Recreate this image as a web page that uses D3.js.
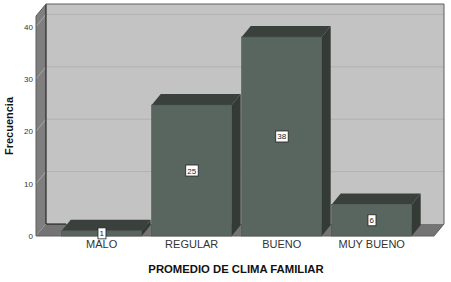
<!DOCTYPE html>
<html><head><meta charset="utf-8">
<script src="https://cdn.jsdelivr.net/npm/d3@7/dist/d3.min.js"></script>
<style>body{margin:0;background:#fff}svg{display:block}</style>
</head><body>
<script>
const categories = ["MALO", "REGULAR", "BUENO", "MUY BUENO"];
const values = [1, 25, 38, 6];
const yTicks = [0, 10, 20, 30, 40];
const xTitle = "PROMEDIO DE CLIMA FAMILIAR";
const yTitle = "Frecuencia";

const W = 451, H = 282;
const svg = d3.select("body").append("svg").attr("width", W).attr("height", H);
const font = "Liberation Sans, Arial, sans-serif";

const y = d3.scaleLinear().domain([0, 42]).range([236, 16]);
const x = d3.scaleBand().domain(categories).range([56.7, 416.7]).paddingInner(0.111).paddingOuter(0.0555);

const fx0 = 36, fx1 = 434, dX = 10, dY = 12;   // frame
const bdx = 9, bdy = 11;                        // bar depth
const y0 = y(0), yTop = y(42);

// back wall
svg.append("rect").attr("x", fx0 + dX).attr("y", yTop - dY).attr("width", fx1 - fx0).attr("height", y0 - yTop)
  .attr("fill", "#c3c3c3");
// left wall
svg.append("path").attr("d", `M${fx0},${yTop} L${fx0+dX},${yTop-dY} L${fx0+dX},${y0-dY} L${fx0},${y0} Z`).attr("fill", "#7f7f7f");
// floor
svg.append("path").attr("d", `M${fx0},${y0} L${fx0+dX},${y0-dY} L${fx1+dX},${y0-dY} L${fx1},${y0} Z`).attr("fill", "#747474");

// gridlines
yTicks.filter(t => t > 0).forEach(t => {
  svg.append("line").attr("x1", fx0 + dX).attr("x2", fx1 + dX).attr("y1", y(t) - dY).attr("y2", y(t) - dY)
    .attr("stroke", "#b2b2b2").attr("stroke-width", 1);
  svg.append("line").attr("x1", fx0).attr("x2", fx0 + dX).attr("y1", y(t)).attr("y2", y(t) - dY)
    .attr("stroke", "#a8a8a8").attr("stroke-width", 1);
});
// back wall edges
svg.append("path").attr("d", `M${fx0+dX},${yTop-dY} L${fx0+dX},${y0-dY} L${fx0+dX+20},${y0-dY}`)
  .attr("fill", "none").attr("stroke", "#111").attr("stroke-width", 1);
svg.append("path").attr("d", `M${fx0},${yTop} L${fx0+dX},${yTop-dY} L${fx1+dX},${yTop-dY} L${fx1+dX},${y0-dY} L${fx1},${y0} L${fx0},${y0} Z`)
  .attr("fill", "none").attr("stroke", "#5e5e5e").attr("stroke-width", 1);

// bars
const g = svg.append("g");
categories.forEach((c, i) => {
  const bx = x(c), bw = x.bandwidth(), by = y(values[i]);
  g.append("path").attr("d", `M${bx},${by} L${bx+bdx},${by-bdy} L${bx+bw+bdx},${by-bdy} L${bx+bw},${by} Z`).attr("fill", "#3a413d");
  g.append("path").attr("d", `M${bx+bw},${by} L${bx+bw+bdx},${by-bdy} L${bx+bw+bdx},${y0-bdy} L${bx+bw},${y0} Z`).attr("fill", "#343b37");
  g.append("rect").attr("x", bx).attr("y", by).attr("width", bw).attr("height", y0 - by)
    .attr("fill", "#59655f").attr("stroke", "#4a544f").attr("stroke-width", 0.6);
  // value label
  const cy = (by + y0) / 2, cx = bx + bw / 2;
  const t = g.append("text").attr("x", cx).attr("y", cy + 3).attr("text-anchor", "middle")
    .attr("font-family", font).attr("font-size", 8).attr("fill", "#222").text(values[i]);
  const bb = t.node().getBBox();
  g.insert("rect", () => t.node()).attr("x", bb.x - 1.5).attr("y", cy - 5.5).attr("width", bb.width + 3).attr("height", 11)
    .attr("fill", "#fff").attr("stroke", "#222").attr("stroke-width", 0.8);
});

// y axis
const ya = svg.append("g").attr("transform", `translate(${fx0 - 2},0)`)
  .call(d3.axisLeft(y).tickValues(yTicks).tickSize(0).tickPadding(1));
ya.select(".domain").remove();
ya.selectAll("text").attr("font-family", font).attr("font-size", 8).attr("fill", "#333");

// x axis labels
const xa = svg.append("g").attr("transform", `translate(0,${y0})`)
  .call(d3.axisBottom(x).tickSize(0).tickPadding(4));
xa.select(".domain").remove();
xa.selectAll("text").attr("font-family", font).attr("font-size", 11).attr("fill", "#333");

// titles
svg.append("text").attr("x", 236).attr("y", 273).attr("text-anchor", "middle")
  .attr("font-family", font).attr("font-size", 11.3).attr("font-weight", "bold").attr("fill", "#111").text(xTitle);
svg.append("text").attr("transform", "translate(13,126) rotate(-90)").attr("text-anchor", "middle")
  .attr("font-family", font).attr("font-size", 11).attr("font-weight", "bold").attr("fill", "#111").text(yTitle);
</script>
</body></html>
